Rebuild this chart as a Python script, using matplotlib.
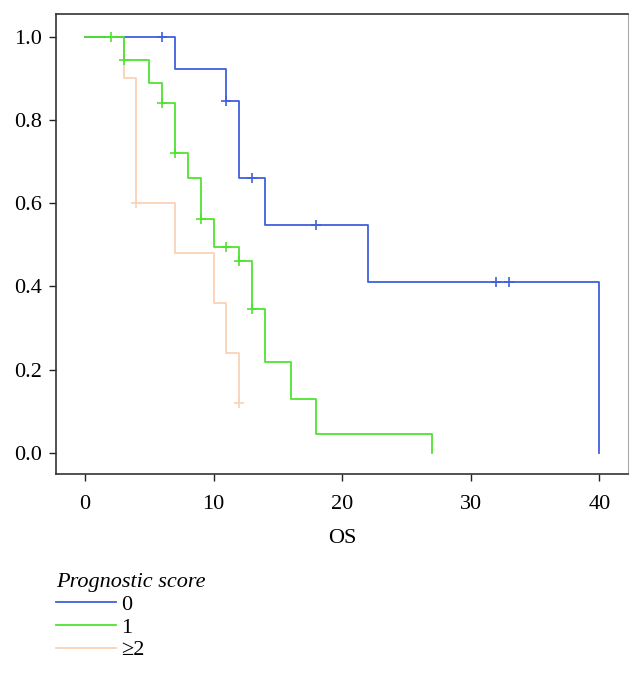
import numpy as np
import matplotlib
matplotlib.use("Agg")
import matplotlib.pyplot as plt

plt.rcParams['font.family'] = ['Liberation Serif', 'DejaVu Serif']

# Kaplan-Meier steps (time, survival after the event)
t_0 = [0, 7, 11, 12, 14, 22, 40]
s_0 = [1.0, 0.923, 0.846, 0.66, 0.547, 0.41, 0.0]
cens_t_0 = [6, 11, 13, 18, 32, 33]
cens_s_0 = [1.0, 0.846, 0.66, 0.547, 0.41, 0.41]

t_1 = [0, 3, 5, 6, 7, 8, 9, 10, 12, 13, 14, 16, 18, 27]
s_1 = [1.0, 0.944, 0.889, 0.840, 0.72, 0.66, 0.5625, 0.495, 0.4615, 0.346, 0.217, 0.13, 0.044, 0.0]
cens_t_1 = [2, 3, 6, 7, 9, 11, 12, 13]
cens_s_1 = [1.0, 0.944, 0.840, 0.72, 0.5625, 0.495, 0.4615, 0.346]

t_2 = [0, 3, 4, 7, 10, 11, 12]
s_2 = [1.0, 0.9, 0.6, 0.48, 0.36, 0.24, 0.12]
cens_t_2 = [4, 12]
cens_s_2 = [0.6, 0.12]

labels = ['0', '1', '≥2']
colors = ['#4060dc', '#4fe330', '#f9d2b6']

fig = plt.figure(figsize=(6.42, 6.74), dpi=100)
ax = fig.add_axes([0.0872, 0.2963, 0.9777 - 0.0872, 0.9792 - 0.2963])

groups = [(t_2, s_2, cens_t_2, cens_s_2, colors[2], labels[2]),
          (t_0, s_0, cens_t_0, cens_s_0, colors[0], labels[0]),
          (t_1, s_1, cens_t_1, cens_s_1, colors[1], labels[1])]
handles = {}
for t, s, ct, cs, c, lab in groups:
    h, = ax.step(t, s, where='post', color=c, lw=1.3, label=lab)
    ax.plot(ct, cs, ls='none', marker='+', ms=7, mew=1.2, color=c)
    handles[lab] = h

ax.set_xlim(-2.25, 42.2)
ax.set_ylim(-0.052, 1.055)
ax.set_xticks([0, 10, 20, 30, 40])
ax.set_yticks([0.0, 0.2, 0.4, 0.6, 0.8, 1.0])
ax.set_yticklabels(['0.0', '0.2', '0.4', '0.6', '0.8', '1.0'])
ax.tick_params(labelsize=16, length=5, width=1, color='#222222')
ax.tick_params(axis='x', pad=10)
ax.tick_params(axis='y', pad=5)
ax.set_xlabel('OS', fontsize=16, labelpad=11)
for sp in ['left', 'bottom', 'top']:
    ax.spines[sp].set_color('#333333')
    ax.spines[sp].set_linewidth(1.2)
ax.spines['right'].set_color('#aaaaaa')

leg = fig.legend([handles[l] for l in labels], labels, title='Prognostic score',
                 loc='upper left', bbox_to_anchor=(0.074, 0.163), frameon=False,
                 fontsize=16, title_fontsize=16, handlelength=2.7, handletextpad=0.2,
                 labelspacing=0.1, alignment='left', borderaxespad=0)
leg.get_title().set_fontstyle('italic')

fig.savefig('out.png', dpi=100)
